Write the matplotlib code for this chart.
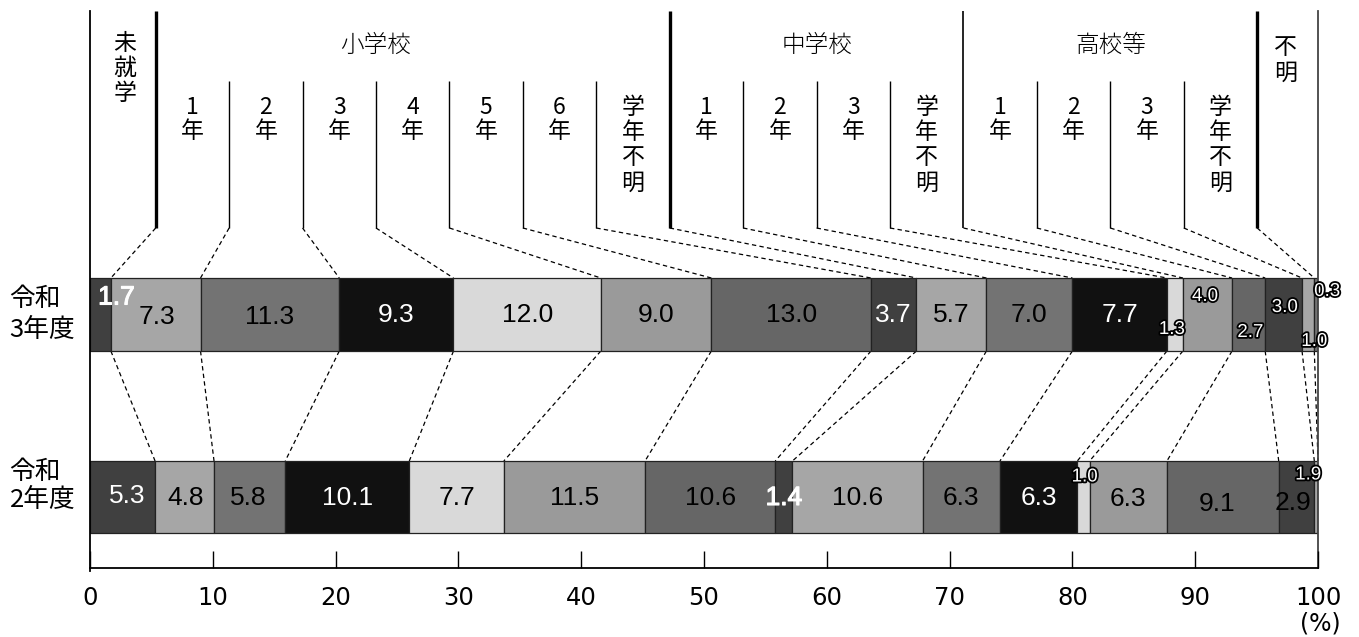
import numpy as np
import matplotlib
matplotlib.use("Agg")
import matplotlib.pyplot as plt
import matplotlib.patheffects as pe

plt.rcParams['font.family'] = ['Noto Sans CJK JP', 'DejaVu Sans']

# ---------------- data ----------------
categories = ["未就学",
              "小1", "小2", "小3", "小4", "小5", "小6", "小学年不明",
              "中1", "中2", "中3", "中学年不明",
              "高1", "高2", "高3", "高学年不明",
              "不明"]
years = ["令和\n3年度", "令和\n2年度"]
r3_values = [1.7, 7.3, 11.3, 9.3, 12.0, 9.0, 13.0, 3.7, 5.7, 7.0, 7.7, 1.3, 4.0, 2.7, 3.0, 1.0, 0.3]
r2_values = [5.3, 4.8, 5.8, 10.1, 7.7, 11.5, 10.6, 1.4, 10.6, 6.3, 6.3, 1.0, 6.3, 9.1, 2.9, 0.3, 0.0]
r3_labels = ["1.7", "7.3", "11.3", "9.3", "12.0", "9.0", "13.0", "3.7", "5.7", "7.0", "7.7", "1.3", "4.0", "2.7", "3.0", "1.0", "0.3"]
r2_labels = ["5.3", "4.8", "5.8", "10.1", "7.7", "11.5", "10.6", "1.4", "10.6", "6.3", "6.3", "1.0", "6.3", "9.1", "2.9", "1.9", ""]
x_ticks = [0, 10, 20, 30, 40, 50, 60, 70, 80, 90, 100]

# ---------------- styles ----------------
cycle = ["#404040", "#a6a6a6", "#737373", "#111111", "#d9d9d9", "#9a9a9a", "#666666"]
colors = [cycle[i % 7] for i in range(len(categories))]
# label style per segment: 'b'=big black, 'w'=big white, 'W'=big white heavier, 's'=small outlined
r3_style = ["W", "b", "b", "w", "b", "b", "b", "w", "b", "b", "w", "s", "s", "s", "s", "s", "s"]
r2_style = ["w", "b", "b", "w", "b", "b", "b", "W", "b", "b", "w", "s", "b", "b", "b", "s", "s"]
# label offsets (dx in %, dy in px)
r3_off = [(1.3, -17), (0.1, 2), (0, 2), (0, 1), (0, 1), (0, 1), (0, 1), (0, 1), (0, 1), (0, 1), (0, 1),
          (-0.25, 15), (-0.2, -18), (0.15, 18), (0.1, -7), (0.5, 27), (0.9, -23)]
r2_off = [(0.4, -1), (0.1, 1), (-0.1, 1), (0, 1), (0, 1), (0, 1), (0, 1), (0, 1), (0, 1), (0, 1), (0, 1),
          (0.1, -20), (0, 2), (-0.5, 7), (-0.25, 6), (-0.65, -22), (0, 0)]

W, H = 1359, 637
fig = plt.figure(figsize=(W / 100, H / 100), dpi=100)
X0, X1 = 90, 1318
ax = fig.add_axes([X0 / W, 0, (X1 - X0) / W, 1])
ax.set_xlim(0, 100)
ax.set_ylim(H, 0)
ax.axis('off')

bar_y = [314.5, 497]
bar_h = [73, 72]
rows = [r3_values, r2_values]
row_labels = [r3_labels, r2_labels]
row_styles = [r3_style, r2_style]
row_offs = [r3_off, r2_off]

cums = []
for r, vals in enumerate(rows):
    vals = np.array(vals)
    lefts = np.concatenate([[0], np.cumsum(vals)[:-1]])
    cums.append(np.cumsum(vals))
    ax.barh([bar_y[r]] * len(vals), vals, left=lefts, height=bar_h[r],
            color=colors, edgecolor="#222222", linewidth=0.9, zorder=2)
    for i, (v, lab) in enumerate(zip(vals, row_labels[r])):
        if not lab:
            continue
        dx, dy = row_offs[r][i]
        cx = lefts[i] + v / 2 + dx
        cy = bar_y[r] + dy
        st = row_styles[r][i]
        if st == "s":
            ax.text(cx, cy, lab, ha="center", va="center", fontsize=13.5,
                    family="Liberation Sans", color="white", zorder=5, clip_on=False,
                    path_effects=[pe.withStroke(linewidth=2.6, foreground="black")])
        elif st == "W":
            ax.text(cx, cy, lab, ha="center", va="center", fontsize=19,
                    family="Liberation Sans", color="white", zorder=5, clip_on=False,
                    path_effects=[pe.withStroke(linewidth=0.8, foreground="white")])
        else:
            col = "white" if st == "w" else "black"
            ax.text(cx, cy, lab, ha="center", va="center", fontsize=19,
                    family="Liberation Sans", color=col, zorder=5, clip_on=False)

# year labels
year_pos = [(299, 330), (472, 500)]
for (ya, yb), lab in zip(year_pos, years):
    l1, l2 = lab.split("\n")
    ax.text(-6.55, ya, l1, ha="left", va="center", fontsize=18.5, clip_on=False)
    ax.text(-6.55, yb, l2, ha="left", va="center", fontsize=18.5, clip_on=False)

# ---------------- header ----------------
hb = np.linspace(5.35, 95.05, 16)
tall = {0: 2.4, 7: 2.4, 11: 1.2, 15: 2.4}
for k, xb in enumerate(hb):
    if k in tall:
        ax.plot([xb, xb], [11, 228], color="black", lw=tall[k], solid_capstyle="butt", clip_on=False)
    else:
        ax.plot([xb, xb], [81, 228], color="black", lw=1.0, solid_capstyle="butt", clip_on=False)
# outer frame lines
ax.plot([0, 0], [11, 571], color="black", lw=1.3, clip_on=False)
ax.plot([100, 100], [11, 568], color="#444444", lw=1.3, clip_on=False)

dash = (0, (3.5, 2.6))
for k in range(16):
    ax.plot([hb[k], cums[0][k]], [228, 278], color="black", lw=0.9, ls=dash, clip_on=False, zorder=1)
    ax.plot([cums[0][k], cums[1][k]], [351, 461], color="black", lw=0.9, ls=dash, clip_on=False, zorder=1)

def vtext(x, y0, text, step=24.5, size=16.5):
    for j, ch in enumerate(text):
        ax.text(x, y0 + j * step, ch, ha="center", va="center", fontsize=size, clip_on=False)

vtext(hb[0] / 2 + 0.15, 44, "未就学", step=24.5)
vtext((hb[15] + 100) / 2 - 0.2, 48, "不明", step=25.5)
grades = ["1", "2", "3", "4", "5", "6", None, "1", "2", "3", None, "1", "2", "3", None]
for k, g in enumerate(grades):
    cx = (hb[k] + hb[k + 1]) / 2
    if g is None:
        vtext(cx, 107, "学年不明", step=25.5)
    else:
        ax.text(cx, 108, g, ha="center", va="center", fontsize=16.5, clip_on=False)
        ax.text(cx, 132, "年", ha="center", va="center", fontsize=16.5, clip_on=False)

for a, b, lab in [(0, 6, "小学校"), (7, 11, "中学校"), (11, 15, "高校等")]:
    ax.text((hb[a] + hb[b]) / 2, 45, lab, ha="center", va="center", fontsize=17,
            fontweight="light", clip_on=False)

# ---------------- x axis ----------------
axx = fig.add_axes([X0 / W, (H - 568) / H, (X1 - X0) / W, 0.0001])
axx.set_xlim(0, 100)
axx.set_yticks([])
for s in ["top", "left", "right"]:
    axx.spines[s].set_visible(False)
axx.spines["bottom"].set_linewidth(1.3)
axx.patch.set_alpha(0)
axx.set_xticks(x_ticks)
axx.set_xticklabels([str(t) for t in x_ticks], family="DejaVu Sans")
axx.tick_params(axis="x", direction="in", length=12.3, width=1.0, pad=13, labelsize=17.5)
ax.text(100.15, 623, "(%)", ha="center", va="center", fontsize=17, family="DejaVu Sans", clip_on=False)

fig.savefig("out.png", dpi=100)
